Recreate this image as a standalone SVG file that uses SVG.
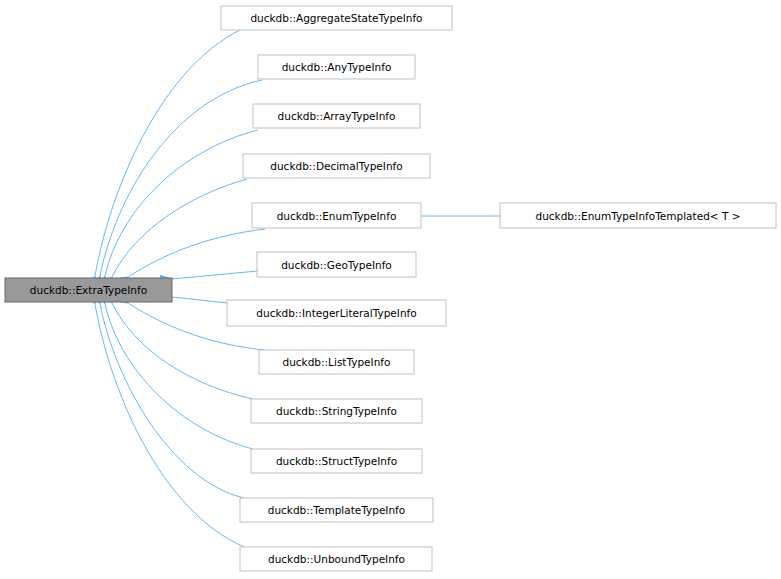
<svg xmlns="http://www.w3.org/2000/svg" width="781" height="579" viewBox="0 0 781 579">
<style>
.n rect{fill:#fff;stroke:#bfbfbf;stroke-width:1}
.r rect{fill:#999;stroke:#666}
text{font-family:"DejaVu Sans",sans-serif;font-size:10.5px;text-anchor:middle;fill:#000}
#edges path{fill:none;stroke:#63b8ff;stroke-width:1;marker-start:url(#a)}
</style>
<defs><marker id="a" markerWidth="12" markerHeight="10" refX="0" refY="5" orient="auto-start-reverse" markerUnits="userSpaceOnUse"><path d="M12,0 L0,5 L12,10 Z" fill="#63b8ff" stroke="#63b8ff"/></marker></defs>
<rect width="781" height="579" fill="#fff"/>
<g id="edges">
<path d="M95,276 C110,190 160,70 240,30"/>
<path d="M100,276 C115,200 170,100 262,80"/>
<path d="M105,276 C120,210 180,150 258,130"/>
<path d="M112,277 C135,230 190,195 247,179"/>
<path d="M128,277 C170,250 215,235 265,229"/>
<path d="M172,279 L258,271"/>
<path d="M172,297 L228,303"/>
<path d="M128,303 C170,330 215,345 265,350"/>
<path d="M112,303 C135,350 190,385 253,399"/>
<path d="M105,304 C120,370 180,430 253,449"/>
<path d="M100,304 C115,380 170,480 244,498"/>
<path d="M95,304 C110,390 160,510 244,547"/>
<path d="M421,216 L500,216"/>
</g>
<g id="root" class="r"><rect x="5" y="278" width="167" height="24"/><text x="88.5" y="294">duckdb::ExtraTypeInfo</text></g>
<g id="n1" class="n"><rect x="221" y="6" width="231" height="24"/><text x="336.5" y="22">duckdb::AggregateStateTypeInfo</text></g>
<g id="n2" class="n"><rect x="258" y="55" width="157" height="24"/><text x="336.5" y="71">duckdb::AnyTypeInfo</text></g>
<g id="n3" class="n"><rect x="253" y="104" width="167" height="24"/><text x="336.5" y="120">duckdb::ArrayTypeInfo</text></g>
<g id="n4" class="n"><rect x="243" y="154" width="187" height="24"/><text x="336.5" y="170">duckdb::DecimalTypeInfo</text></g>
<g id="n5" class="n"><rect x="252" y="203" width="169" height="25"/><text x="336.5" y="220">duckdb::EnumTypeInfo</text></g>
<g id="n5t" class="n"><rect x="500" y="203" width="276" height="25"/><text x="638" y="220">duckdb::EnumTypeInfoTemplated&lt; T &gt;</text></g>
<g id="n6" class="n"><rect x="257" y="252" width="159" height="25"/><text x="336.5" y="269">duckdb::GeoTypeInfo</text></g>
<g id="n7" class="n"><rect x="227" y="300" width="219" height="26"/><text x="336.5" y="317">duckdb::IntegerLiteralTypeInfo</text></g>
<g id="n8" class="n"><rect x="259" y="350" width="155" height="24"/><text x="336.5" y="366">duckdb::ListTypeInfo</text></g>
<g id="n9" class="n"><rect x="251" y="399" width="171" height="24"/><text x="336.5" y="415">duckdb::StringTypeInfo</text></g>
<g id="n10" class="n"><rect x="251" y="449" width="171" height="24"/><text x="336.5" y="465">duckdb::StructTypeInfo</text></g>
<g id="n11" class="n"><rect x="240" y="498" width="193" height="24"/><text x="336.5" y="514">duckdb::TemplateTypeInfo</text></g>
<g id="n12" class="n"><rect x="240" y="547" width="192" height="24"/><text x="336.5" y="563">duckdb::UnboundTypeInfo</text></g>
</svg>
